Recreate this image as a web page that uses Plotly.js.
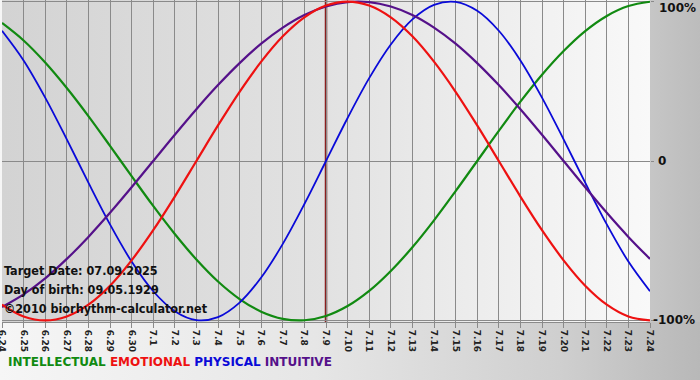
<!DOCTYPE html>
<html>
<head>
<meta charset="utf-8">
<script src="https://cdn.plot.ly/plotly-3.0.1.min.js"></script>
<style>
  html, body { margin: 0; padding: 0; }
  body { width: 700px; height: 380px; position: relative; overflow: hidden;
         background: linear-gradient(to right, #f6f6f6 0%, #e6e6e6 45%, #cfcfcf 80%, #b8b8b8 100%); }
  #plotbg { position: absolute; left: 2px; top: 0px; width: 648px; height: 322px;
            background: linear-gradient(to right, #d3d3d3 0%, #e2e2e2 50%, #f9f9f9 100%); }
  #rightbg { position: absolute; left: 650px; top: 0px; width: 50px; height: 322px;
             background: linear-gradient(to right, #c6c6c6 0%, #bcbcbc 100%); }
  #chart { position: absolute; left: 0; top: 0; width: 700px; height: 380px; }
</style>
</head>
<body>
<div id="plotbg"></div>
<div id="rightbg"></div>
<div id="chart"></div>
<script>
const days = ['6.24','6.25','6.26','6.27','6.28','6.29','6.30','7.1','7.2','7.3','7.4','7.5','7.6','7.7','7.8','7.9',
              '7.10','7.11','7.12','7.13','7.14','7.15','7.16','7.17','7.18','7.19','7.20','7.21','7.22','7.23','7.24'];
const intellectual = [86.6,75.6,61.8,45.8,28.2,9.5,-9.5,-28.2,-45.8,-61.8,-75.6,-86.6,-94.5,-99.0,-99.9,-97.2,
                      -91.0,-81.5,-69.0,-54.1,-37.2,-18.9,0,18.9,37.2,54.1,69.0,81.5,91.0,97.2,99.9];
const emotional = [-90.1,-97.5,-100,-97.5,-90.1,-78.2,-62.3,-43.4,-22.3,0,22.3,43.4,62.3,78.2,90.1,97.5,
                   100,97.5,90.1,78.2,62.3,43.4,22.3,0,-22.3,-43.4,-62.3,-78.2,-90.1,-97.5,-100];
const physical = [81.7,63.1,39.8,13.6,-13.6,-39.8,-63.1,-81.7,-94.2,-99.8,-97.9,-88.8,-73.1,-52.0,-27.0,0,
                  27.0,52.0,73.1,88.8,97.9,99.8,94.2,81.7,63.1,39.8,13.6,-13.6,-39.8,-63.1,-81.7];
const intuitive = [-91.6,-83.7,-73.6,-61.4,-47.6,-32.5,-16.5,0,16.5,32.5,47.6,61.4,73.6,83.7,91.6,96.9,
                   99.7,99.7,96.9,91.6,83.7,73.6,61.4,47.6,32.5,16.5,0,-16.5,-32.5,-47.6,-61.4];
const targetDay = '7.9';
const yLabelVals = [100, 0, -100];
const yLabelText = ['100%', '0', '-100%'];
const infoLines = ['Target Date: 07.09.2025', 'Day of birth: 09.05.1929', '©2010 biorhythm-calculator.net'];
const infoY = [-69, -80.5, -92.5];
const seriesNames = ['INTELLECTUAL', 'EMOTIONAL', 'PHYSICAL', 'INTUITIVE'];
const seriesColors = ['#118a11', '#ee1111', '#0a0ad8', '#55118a'];

function tr(y, i, w) {
  return { x: days, y: y, type: 'scatter', mode: 'lines', name: seriesNames[i],
           line: { color: seriesColors[i], width: w, shape: 'spline', smoothing: 1 },
           hoverinfo: 'skip' };
}
const data = [
  tr(intellectual, 0, 2.2),
  tr(physical, 2, 1.8),
  tr(intuitive, 3, 2.2),
  tr(emotional, 1, 2.2)
];

const annotations = infoLines.map((t, i) => ({
  text: t, xref: 'paper', yref: 'y', x: 0, y: infoY[i], xanchor: 'left', yanchor: 'middle',
  xshift: 0, showarrow: false,
  font: { family: 'DejaVu Sans Condensed, DejaVu Sans', size: 12.5, weight: 'bold', color: '#111' }
}));
const yShift = [-6, 0, 0];
const xShift = [7, 6, 1];
yLabelVals.forEach((v, i) => annotations.push({
  text: yLabelText[i], xref: 'paper', yref: 'y', x: 1, y: v, xanchor: 'left', yanchor: 'middle',
  xshift: xShift[i], yshift: yShift[i], showarrow: false,
  font: { family: 'DejaVu Sans', size: 12, weight: 'bold', color: '#111' }
}));
const legendHtml = seriesNames.map((n, i) => '<span style="color:' + seriesColors[i] + '">' + n + '</span>').join(' ');
annotations.push({
  text: legendHtml, xref: 'paper', yref: 'paper', x: 0, y: -0.124, xanchor: 'left', yanchor: 'middle',
  xshift: 4, showarrow: false,
  font: { family: 'DejaVu Sans', size: 12, weight: 'bold', color: '#000' }
});

const layout = {
  width: 700, height: 380,
  margin: { l: 2, r: 50, t: 0, b: 58, pad: 0 },
  paper_bgcolor: 'rgba(0,0,0,0)', plot_bgcolor: 'rgba(0,0,0,0)',
  showlegend: false,
  xaxis: {
    type: 'category', range: [0, days.length - 1],
    showgrid: true, gridcolor: '#8a8a8a', gridwidth: 1,
    showline: true, linecolor: '#8a8a8a', linewidth: 1,
    ticks: 'outside', ticklen: 5, tickcolor: '#8a8a8a', tickwidth: 1,
    tickangle: 90, tickfont: { family: 'DejaVu Sans', size: 9, weight: 'bold', color: '#222' },
    zeroline: false, fixedrange: true
  },
  yaxis: {
    range: [-101, 101], side: 'right',
    tickvals: [-100, 0, 100], showticklabels: false,
    showgrid: true, gridcolor: '#8a8a8a', gridwidth: 1,
    zeroline: false, showline: false,
    ticks: 'outside', ticklen: 3, tickcolor: '#8a8a8a',
    fixedrange: true
  },
  shapes: [{
    type: 'line', xref: 'x', yref: 'paper', x0: days.indexOf(targetDay), x1: days.indexOf(targetDay), y0: 0, y1: 1,
    line: { color: '#8a1f1f', width: 2.5 }, layer: 'between'
  }],
  annotations: annotations
};

Plotly.newPlot('chart', data, layout, { staticPlot: true, displayModeBar: false });
</script>
</body>
</html>
